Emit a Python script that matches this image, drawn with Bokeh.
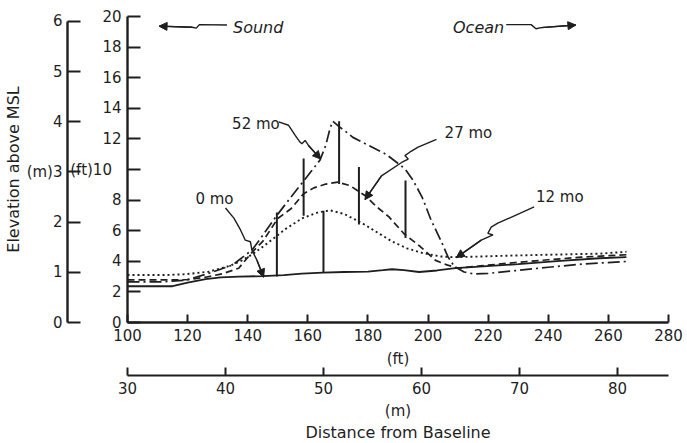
from bokeh.plotting import figure
from bokeh.models import Range1d, LinearAxis, FixedTicker, Title, Arrow, NormalHead
from bokeh.core.properties import value
from bokeh.embed import file_html
from bokeh.resources import INLINE

FONT = "DejaVu Sans"
INK = "#1e1e1e"

# ---- axis ticks -------------------------------------------------------
ft_x_ticks = [100, 120, 140, 160, 180, 200, 220, 240, 260, 280]
m_x_ticks = [30, 40, 50, 60, 70, 80]
ft_y_ticks = [0, 2, 4, 6, 8, 10, 12, 14, 16, 18, 20]
m_y_ticks = [0, 1, 2, 3, 4, 5, 6]

# ---- profiles: distance (ft) / elevation (ft) -------------------------
dist_0mo = [100, 115, 120, 126, 131, 137, 145, 152, 158, 165, 172, 180, 185, 188,
            192, 197, 203, 209, 217, 230, 244, 257, 266]
elev_0mo = [2.37, 2.37, 2.6, 2.84, 2.95, 3.0, 3.03, 3.1, 3.2, 3.26, 3.3, 3.33, 3.42,
            3.48, 3.42, 3.3, 3.4, 3.55, 3.65, 3.81, 4.03, 4.2, 4.27]

dist_12mo = [100, 112, 119, 127, 134, 138, 141.5, 145, 148, 152.5, 158, 163.5, 167.5,
             172, 178, 183, 188, 193, 198, 204, 208, 215, 229, 245, 257, 266]
elev_12mo = [3.1, 3.1, 3.15, 3.32, 3.7, 4.05, 4.45, 4.95, 5.4, 6.1, 6.8, 7.2, 7.33,
             7.1, 6.5, 5.9, 5.3, 4.85, 4.55, 4.32, 4.27, 4.3, 4.38, 4.45, 4.5, 4.62]

dist_27mo = [100, 112, 120, 126, 131.5, 137, 141.5, 145, 150, 154.5, 158.5, 162, 166,
             170, 174, 179, 183, 187, 192, 197.5, 202.5, 206.5, 210, 217.5, 229, 240,
             251, 266]
elev_27mo = [2.78, 2.78, 2.8, 2.96, 3.18, 3.55, 4.6, 5.3, 6.8, 7.45, 8.4, 8.8, 9.05,
             9.17, 8.95, 8.3, 7.55, 6.9, 5.8, 4.95, 4.06, 3.75, 3.55, 3.7, 3.92, 4.1,
             4.27, 4.43]

dist_52mo = [100, 112, 119.5, 127, 135, 141.5, 144, 149.5, 155, 158, 161, 164, 166,
             167.4, 168.3, 170.4, 172.5, 175, 180, 186, 192.3, 195, 198, 201, 204.4,
             206.6, 208.8, 212, 215.4, 220, 229, 240, 251, 266]
elev_52mo = [2.66, 2.66, 2.77, 3.21, 3.76, 4.75, 5.42, 6.95, 8.35, 9.1, 9.85, 10.6,
             11.6, 12.7, 13.15, 12.8, 12.5, 12.1, 11.6, 11.0, 10.05, 9.3, 8.2, 6.7,
             5.3, 4.3, 3.65, 3.3, 3.17, 3.21, 3.39, 3.61, 3.81, 3.99]

# vertical marker bars
bar_x = [149.7, 158.6, 165.2, 170.4, 177.0, 192.5]
bar_low = [3.0, 6.97, 3.26, 9.06, 6.41, 5.53]
bar_high = [7.19, 10.72, 7.3, 13.15, 10.17, 9.28]

# curve labels
label_text = ["52 mo", "0 mo", "27 mo", "12 mo"]
label_x = [134.8, 122.6, 205.5, 235.9]
label_y = [13.0, 8.09, 12.4, 8.2]

# leader lines (ft, ft); last point is the arrow tip
lead_52_x = [150.3, 153.6, 155.8, 157.4, 158.0, 159.1, 160.2, 164.3]
lead_52_y = [13.11, 12.89, 12.23, 11.79, 11.68, 11.9, 11.57, 10.68]
lead_0_x = [132.6, 135.4, 137.6, 139.2, 140.9, 141.4, 143.1, 145.3]
lead_0_y = [7.48, 6.82, 6.05, 5.38, 5.28, 4.72, 4.06, 2.96]
lead_27_x = [202.8, 196.7, 193.9, 192.3, 193.4, 191.2, 184.5, 179.0]
lead_27_y = [11.97, 11.46, 11.13, 10.91, 10.68, 10.46, 9.58, 8.03]
lead_12_x = [235.3, 223.2, 221.0, 219.9, 221.6, 217.7, 209.4]
lead_12_y = [7.55, 6.49, 6.23, 5.83, 5.72, 5.38, 4.24]

# direction annotations
dir_text = ["Sound", "Ocean"]
dir_x = [135.1, 208.3]
dir_y = [19.29, 19.29]
sound_x = [133.1, 123.9, 122.9, 121.5, 110.5]
sound_y = [19.44, 19.47, 19.24, 19.3, 19.37]
ocean_x = [226.0, 234.3, 235.9, 237.6, 249.2]
ocean_y = [19.47, 19.47, 19.2, 19.27, 19.44]

FT_PER_M = 3.2808

p = figure(width=687, height=443,
           x_range=Range1d(100, 280), y_range=Range1d(0, 20),
           output_backend="svg", toolbar_location=None,
           min_border_left=125, min_border_right=19, min_border_top=16,
           min_border_bottom=0,
           background_fill_color="white", border_fill_color="white",
           outline_line_color=None)
p.grid.visible = False
p.extra_x_ranges = {"m": Range1d(30, 85.2)}
p.extra_y_ranges = {"m": Range1d(0, 20 / FT_PER_M)}


def style_axis(ax, tick_in, standoff, lw=2.4):
    ax.major_tick_in = tick_in
    ax.major_tick_out = 0
    ax.minor_tick_line_color = None
    ax.axis_line_color = INK
    ax.axis_line_width = lw
    ax.major_tick_line_color = INK
    ax.major_tick_line_width = 2
    ax.major_label_standoff = standoff
    ax.major_label_text_font = FONT
    ax.major_label_text_font_size = "15px"
    ax.major_label_text_color = INK
    ax.axis_label_text_font = FONT
    ax.axis_label_text_font_style = "normal"
    ax.axis_label_text_color = INK


# ft elevation axis (nearest the frame)
ya = p.yaxis[0]
ya.ticker = FixedTicker(ticks=ft_y_ticks)
style_axis(ya, 13, 6)
ya.major_label_overrides = {10: "  (ft)10"}

# metre elevation axis
my = LinearAxis(y_range_name="m", ticker=FixedTicker(ticks=m_y_ticks), bounds=(0, 6))
style_axis(my, 13, 5)
my.major_label_overrides = {3: "(m)3"}
my.axis_label = "Elevation above MSL"
my.axis_label_text_font_size = "16px"
my.axis_label_standoff = 1
p.add_layout(my, "left")

# ft distance axis
xa = p.xaxis[0]
xa.ticker = FixedTicker(ticks=ft_x_ticks)
style_axis(xa, 8, 6)

t_ft = Title(text="(ft)", align="center", vertical_align="top", standoff=12,
             text_font=FONT, text_font_size="15px", text_font_style="normal",
             text_color=INK)
p.add_layout(t_ft, "below")

mx = LinearAxis(x_range_name="m", ticker=FixedTicker(ticks=m_x_ticks))
style_axis(mx, 8, 6, lw=2.2)
mx.axis_label = "(m)"
mx.axis_label_text_font_size = "15px"
mx.axis_label_standoff = 5
p.add_layout(mx, "below")

t_dist = Title(text="Distance from Baseline", align="center", vertical_align="top",
               standoff=0, text_font=FONT, text_font_size="16px",
               text_font_style="normal", text_color=INK)
p.add_layout(t_dist, "below")

# profiles
p.line(dist_0mo, elev_0mo, line_color=INK, line_width=1.8)
p.line(dist_12mo, elev_12mo, line_color=INK, line_width=1.9, line_dash="2 3")
p.line(dist_27mo, elev_27mo, line_color=INK, line_width=1.7, line_dash="7 4")
p.line(dist_52mo, elev_52mo, line_color=INK, line_width=1.7, line_dash="12 4 2 4")

# vertical bars
p.segment(x0=bar_x, y0=bar_low, x1=bar_x, y1=bar_high, line_color=INK, line_width=2)

# leaders with arrowheads
for lx, ly in [(lead_52_x, lead_52_y), (lead_0_x, lead_0_y), (lead_27_x, lead_27_y),
               (lead_12_x, lead_12_y), (sound_x, sound_y), (ocean_x, ocean_y)]:
    p.line(lx, ly, line_color=INK, line_width=1.4)
    p.add_layout(Arrow(end=NormalHead(size=8, fill_color=INK, line_color=INK, line_width=1),
                       x_start=lx[-2], y_start=ly[-2], x_end=lx[-1], y_end=ly[-1],
                       line_color=INK, line_width=1.4))

p.text(x=label_x, y=label_y, text=label_text, text_font=value(FONT),
       text_font_size="15px", text_color=INK, text_baseline="middle", text_align="left")
p.text(x=dir_x, y=dir_y, text=dir_text, text_font=value(FONT), text_font_style="italic",
       text_font_size="16px", text_color=INK, text_baseline="middle", text_align="left")

open("out.html", "w").write(file_html(p, INLINE))
